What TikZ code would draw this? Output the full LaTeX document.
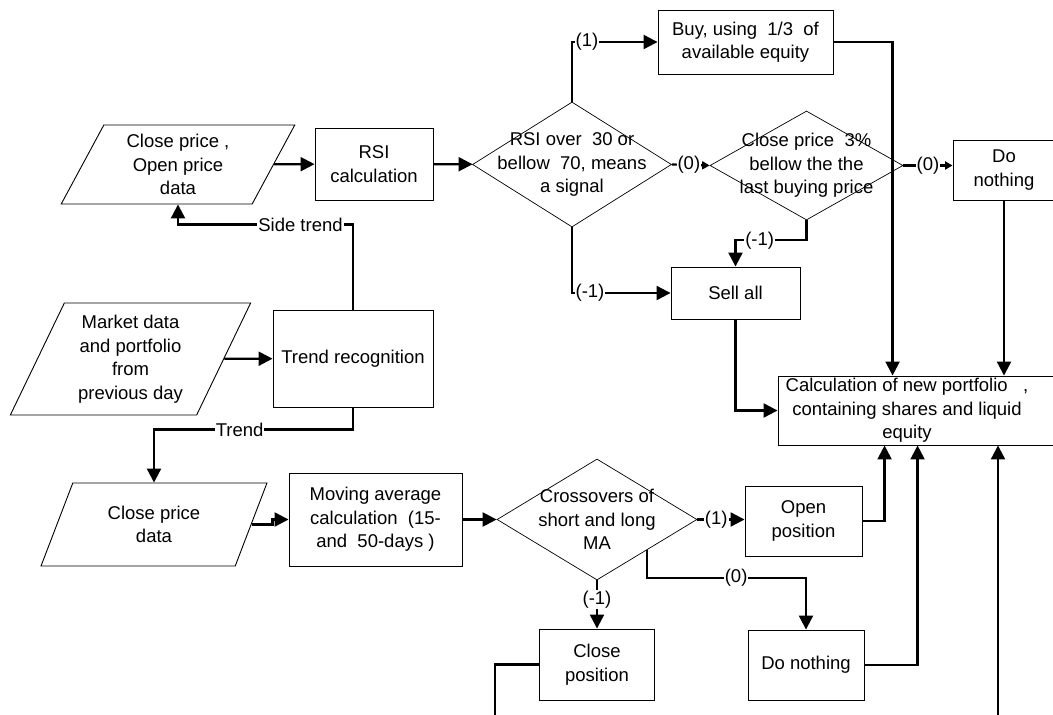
\documentclass[tikz,border=0pt]{standalone}
\usepackage{fontspec}
\setmainfont{Liberation Sans}
\usetikzlibrary{arrows.meta,positioning,calc,shapes.geometric}

\begin{document}
\begin{tikzpicture}[
    x=1pt, y=-1pt,
    font=\fontsize{18.5}{23.5}\selectfont,
    box/.style={draw, line width=0.9pt, align=center, inner sep=0pt},
    io/.style={draw, line width=0.9pt, align=center, trapezium, trapezium left angle=64, trapezium right angle=116, trapezium stretches=true, inner sep=0pt},
    decision/.style={draw, line width=0.7pt, diamond, inner sep=0pt},
    conn/.style={line width=2.2pt, -{Triangle[length=14pt,width=14pt]}},
    small/.style={line width=2.2pt, -{Triangle[length=7.5pt,width=8pt]}},
    lbl/.style={fill=white, inner sep=1pt}]
    \path[use as bounding box, clip] (0,0) rectangle (1053,715);

    \node[io, minimum width=234pt, minimum height=79pt] (inA) at (178,164.5) {Close price ,\\Open price\\data};
    \node[box, minimum width=118pt, minimum height=72pt] (rsi) at (374,164) {RSI\\calculation};
    \node[decision, minimum width=199pt, minimum height=125pt, label={[align=center]center:{RSI over\ \ 30 or\\bellow\ \ 70, means\\a signal}}] (sig) at (572,164.5) {};
    \node[box, minimum width=175pt, minimum height=64pt] (buy) at (745.5,42) {Buy,\ using\ \ 1/3\ \ of\\available equity};
    \node[box, minimum width=129pt, minimum height=52pt] (sell) at (735.5,293) {Sell all};
    \node[decision, minimum width=193pt, minimum height=109pt, label={[align=center]center:{Close price\ \ 3\%\\bellow the the\\last buying price}}] (drop) at (806.5,165.5) {};
    \node[box, minimum width=102pt, minimum height=60pt] (nop) at (1004,170) {Do\\nothing};
    \node[box, minimum width=282pt, minimum height=69pt, label={[align=center, xshift=-12pt]center:{Calculation of new portfolio\ \ \ ,\\containing shares and liquid\\equity}}] (calc) at (919,410.5) {};

    \node[io, minimum width=241pt, minimum height=112pt] (mkt) at (130.5,359) {Market data\\and portfolio\\from\\previous day};
    \node[box, minimum width=160pt, minimum height=97pt] (trend) at (353,358.5) {Trend recognition};
    \node[io, minimum width=226pt, minimum height=83pt] (inB) at (154,524.5) {Close price\\data};
    \node[box, minimum width=173pt, minimum height=93pt] (ma) at (375.5,519.5) {Moving average\\calculation\ \ (15-\\and\ \ 50-days )};
    \node[decision, minimum width=200pt, minimum height=121pt, label={[align=center]center:{Crossovers of\\short and long\\MA}}] (cross) at (597,519.5) {};
    \node[box, minimum width=117pt, minimum height=70pt] (open) at (803.5,521) {Open\\position};
    \node[box, minimum width=116pt, minimum height=70pt] (hold) at (806,665) {Do nothing};
    \node[box, minimum width=115pt, minimum height=71pt] (close) at (597,664.5) {Close\\position};

    % RSI branch
    \draw[conn] (inA) -- (rsi);
    \draw[conn] (rsi) -- (sig);
    \draw[conn] (sig.north) |- node[lbl, pos=0.5, anchor=west, xshift=1.5pt] {(1)} (buy.west);
    \draw[conn] (sig.south) |- node[lbl, pos=0.5, anchor=west, xshift=1.5pt] {(-1)} (sell.west);
    \draw[small] (sig.east) -- node[lbl, pos=0.45] {(0)} (drop.west);
    \draw[small] (drop.east) -- node[lbl] {(0)} (nop.west |- drop.east);
    \draw[conn] (drop.south) -- ++(0,20) -| node[lbl, pos=0.33] {(-1)} (sell.north);
    \draw[conn] (buy.east) -| ([xshift=115pt]calc.north west);
    \draw[conn] (nop.south) -- (nop.south |- calc.north);
    \draw[conn] (sell.south) |- (calc.west);

    % trend split
    \draw[conn] (mkt) -- (trend);
    \draw[conn] (trend.north) -- ++(0,-85) -| node[lbl, pos=0.15] {Side trend\ } (inA);
    \draw[conn] (trend.south) -- ++(0,22) -| node[lbl, pos=0.285] {Trend} (inB);

    % moving average branch
    \draw[conn] (inB.east) -- ++(21,0) |- (ma.west);
    \draw[conn] (ma) -- (cross);
    \draw[conn] (cross.east) -- node[lbl, pos=0.4] {(1)} (open.west |- cross.east);
    \draw[conn] (cross.south east) -- ++(0,28) -| node[lbl, pos=0.28] {(0)} (hold.north);
    \draw[conn] (cross.south) -- node[lbl, pos=0.4] {(-1)} (close.north);
    \draw[conn] (open.east) -| ([xshift=107pt]calc.south west);
    \draw[conn] (hold.east) -| ([xshift=140pt]calc.south west);

    % lines running off the page
    \coordinate (exitL) at (495,730);
    \coordinate (exitR) at (998,730);
    \draw[line width=2.2pt] (close.west) -| (exitL);
    \draw[conn] (exitR) -- (exitR |- calc.south);
\end{tikzpicture}
\end{document}
